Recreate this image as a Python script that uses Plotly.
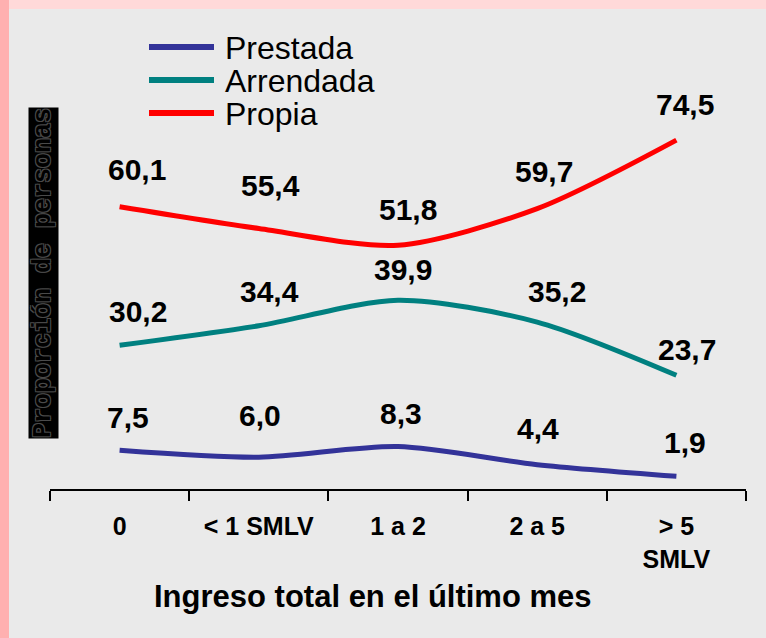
import plotly.graph_objects as go

# Income brackets (x categories) and housing tenure shares (%)
categorias = ["0", "< 1 SMLV", "1 a 2", "2 a 5", "> 5 SMLV"]
etiquetas_eje = ["0", "< 1 SMLV", "1 a 2", "2 a 5", "> 5<br>SMLV"]

prestada = [7.5, 6.0, 8.3, 4.4, 1.9]
arrendada = [30.2, 34.4, 39.9, 35.2, 23.7]
propia = [60.1, 55.4, 51.8, 59.7, 74.5]

series = [
    ("Prestada", prestada, "#333399"),
    ("Arrendada", arrendada, "#008080"),
    ("Propia", propia, "#FF0000"),
]

# Label offsets (px) relative to each point: (dx, dy)
desplazamientos = {
    "Prestada": [(8, 33), (1, 42), (3, 33), (1, 36), (9, 34)],
    "Arrendada": [(18, 34), (11, 34), (5, 31), (20, 31), (11, 26)],
    "Propia": [(17, 37), (12, 43), (10, 36), (7, 37), (9, 36)],
}

W, H = 766, 638
ML, MR, MT, MB = 50, 20, 10, 149
PW = W - ML - MR
PH = H - MT - MB


def px(xp):
    return (xp - ML) / PW


def py(yp):
    return (H - MB - yp) / PH


fig = go.Figure()
annotations = []

for nombre, valores, color in series:
    fig.add_trace(go.Scatter(
        x=categorias, y=valores, mode="lines", name=nombre,
        line=dict(color=color, width=5, shape="spline", smoothing=0.8),
        showlegend=False, hoverinfo="x+y",
    ))
    for cat, v, (dx, dy) in zip(categorias, valores, desplazamientos[nombre]):
        annotations.append(dict(
            x=cat, y=v, xref="x", yref="y", text=f"{v:.1f}".replace(".", ","),
            showarrow=False, xshift=dx, yshift=dy, xanchor="center", yanchor="middle",
            font=dict(family="Liberation Sans, Arial", size=30, color="black", weight="bold"),
        ))

# Legend drawn as line samples with labels
shapes = []
legend_y = [47, 80, 113]
for (nombre, _, color), ly in zip(series, legend_y):
    shapes.append(dict(
        type="line", xref="paper", yref="paper",
        x0=px(149), x1=px(214), y0=py(ly), y1=py(ly),
        line=dict(color=color, width=6),
    ))
    annotations.append(dict(
        x=px(223), y=py(ly + 1), xref="paper", yref="paper", text=nombre,
        showarrow=False, xanchor="left", yanchor="middle",
        font=dict(family="Liberation Sans, Arial", size=32, color="black"),
    ))

# Pink frame bands on the top and left edges
shapes.insert(0, dict(type="rect", xref="paper", yref="paper", layer="below",
                      x0=px(0), x1=px(W), y0=py(9), y1=py(0),
                      fillcolor="#FFD9D9", line=dict(width=0)))
shapes.insert(1, dict(type="rect", xref="paper", yref="paper", layer="below",
                      x0=px(0), x1=px(9), y0=py(H), y1=py(0),
                      fillcolor="#FFB0B0", line=dict(width=0)))

# Y-axis caption in a dark box
annotations.append(dict(
    x=px(43.5), y=py(273.5), xref="paper", yref="paper",
    text="Proporción de personas", textangle=-90, showarrow=False,
    xanchor="center", yanchor="middle", bgcolor="black", borderpad=0,
    font=dict(family="Liberation Mono, Courier New", size=25, color="black", weight="bold",
              shadow="1px 1px 0 #4a4a4a, -1px -1px 0 #4a4a4a, 1px -1px 0 #4a4a4a, -1px 1px 0 #4a4a4a"),
))

# X-axis caption
annotations.append(dict(
    x=px(373), y=py(596), xref="paper", yref="paper",
    text="Ingreso total en el último mes", showarrow=False,
    xanchor="center", yanchor="middle",
    font=dict(family="Liberation Sans, Arial", size=31, color="black", weight="bold"),
))

fig.update_layout(
    width=W, height=H,
    margin=dict(l=ML, r=MR, t=MT, b=MB),
    paper_bgcolor="#EAEAEA", plot_bgcolor="#EAEAEA",
    shapes=shapes, annotations=annotations,
    xaxis=dict(
        type="category", categoryorder="array", categoryarray=categorias,
        range=[-0.5, 4.5], tickmode="array", tickvals=categorias, ticktext=etiquetas_eje,
        showline=True, linecolor="black", linewidth=2, showgrid=False, zeroline=False,
        ticks="outside", tickson="boundaries", ticklen=10, tickwidth=2, tickcolor="black",
        ticklabelstandoff=14,
        tickfont=dict(family="Liberation Sans, Arial", size=25, color="black", weight="bold"),
    ),
    yaxis=dict(range=[-0.86, 102.6], visible=False, fixedrange=True),
)

fig.write_html("out.html")
